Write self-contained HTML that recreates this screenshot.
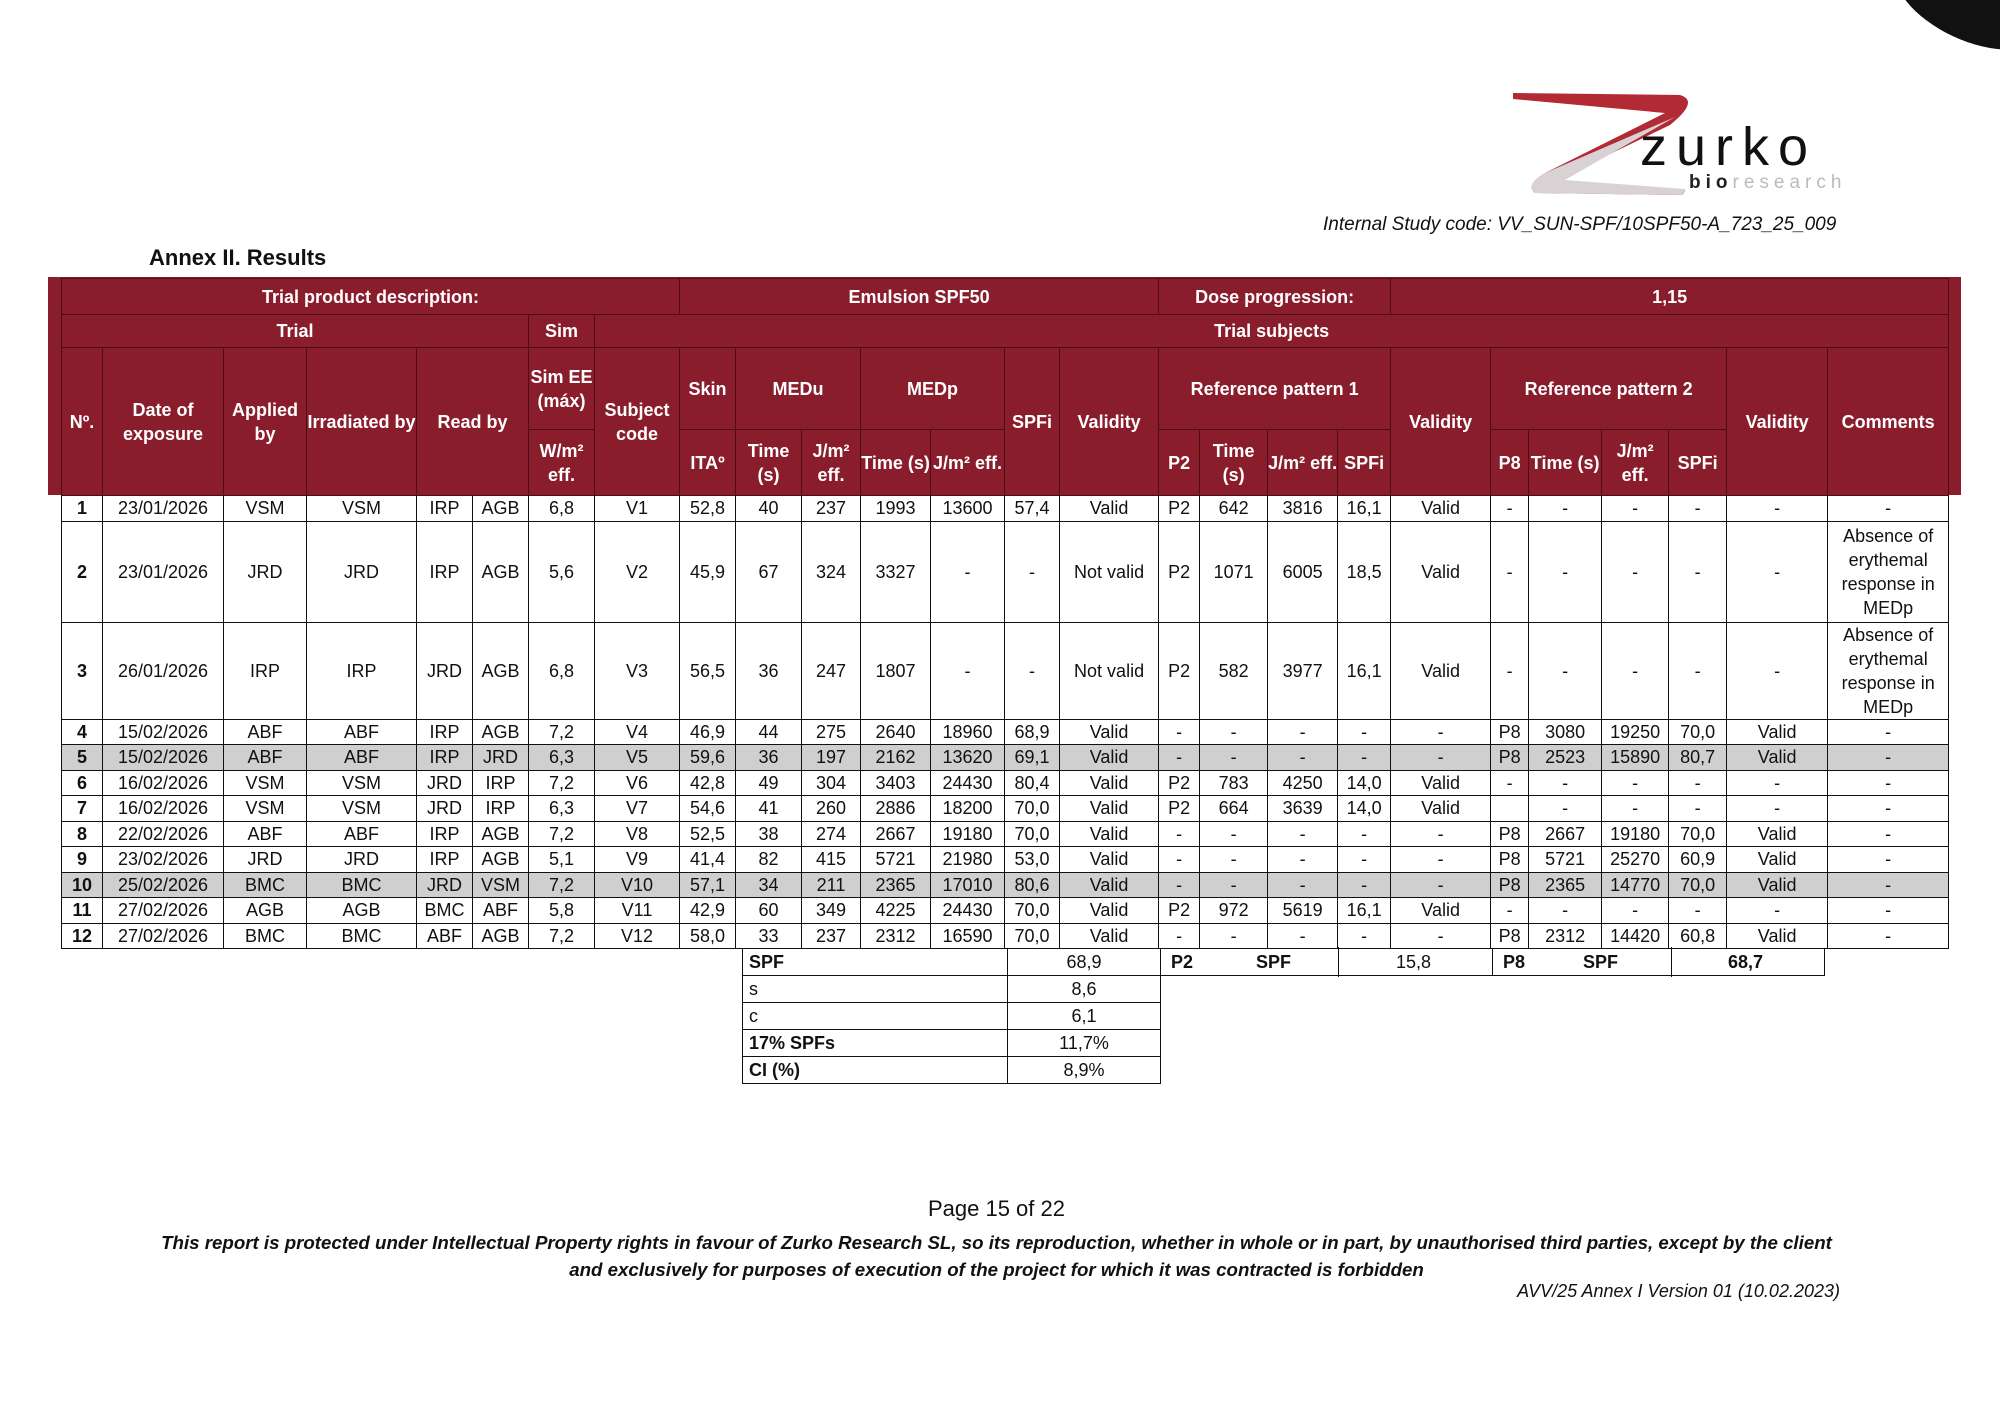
<!DOCTYPE html>
<html><head><meta charset="utf-8"><style>
*{margin:0;padding:0;box-sizing:border-box}
body{width:2000px;height:1414px;background:#fff;position:relative;overflow:hidden;font-family:"Liberation Sans",sans-serif;color:#111}
.abs{position:absolute;white-space:nowrap}
#hdrbg{position:absolute;left:48px;top:277px;width:1913px;height:218px;background:#8a1d2b}
table{position:absolute;border-collapse:collapse;table-layout:fixed}
#main{left:61px;top:278px;width:1887px}
#main td{text-align:center;vertical-align:middle;font-size:18px;line-height:20px;border:1.5px solid #111;overflow:hidden;padding:0}
#main tr.h td{background:#8a1d2b;color:#fff;font-weight:bold;font-size:18px;line-height:24px;border:1px solid #4e0d15}
#main tr.g td{background:#cfcfcf}
#main tr.r td{height:25.5px}
#sum{left:742px;top:948px;width:418px}
#sum td{border:1.5px solid #111;height:27px;font-size:18px;padding:0 6px}
.box{position:absolute;border:1.5px solid #111;height:28px;font-size:18px;font-weight:bold;top:948px}
</style></head><body>
<svg class="abs" style="left:1505px;top:85px" width="360" height="115">
<path d="M8 8 L175 10 Q195 16 165 40 L45 98 L180 105 L178 110 L30 108 Q20 100 40 88 L160 28 L8 14 Z" fill="#b22a33"/>
<path d="M40 88 L170 32 L60 95 L180 104 L178 110 L30 108 Q20 100 40 88Z" fill="#d8d2d4"/>
<text x="135" y="80" font-family="Liberation Sans,sans-serif" font-size="54" fill="#111" letter-spacing="9">zurko</text>
<text x="184" y="103" font-family="Liberation Sans,sans-serif" font-size="19" font-weight="bold" fill="#222" letter-spacing="5">bio<tspan fill="#bbb" font-weight="normal">research</tspan></text>
</svg>
<div class="abs" style="left:1323px;top:214px;font-size:19px;font-style:italic">Internal Study code: VV_SUN-SPF/10SPF50-A_723_25_009</div>
<div class="abs" style="left:149px;top:245px;font-size:22px;font-weight:bold">Annex II. Results</div>
<div id="hdrbg"></div>
<table id="main">
<colgroup><col style="width:41px"><col style="width:121px"><col style="width:83px"><col style="width:110px"><col style="width:56px"><col style="width:56px"><col style="width:66px"><col style="width:85px"><col style="width:56px"><col style="width:66px"><col style="width:59px"><col style="width:70px"><col style="width:74px"><col style="width:55px"><col style="width:99px"><col style="width:41px"><col style="width:68px"><col style="width:70px"><col style="width:53px"><col style="width:100px"><col style="width:38px"><col style="width:73px"><col style="width:67px"><col style="width:58px"><col style="width:101px"><col style="width:121px"></colgroup>
<tr class="h" style="height:36px"><td colspan="8">Trial product description:</td><td colspan="7">Emulsion SPF50</td><td colspan="4">Dose progression:</td><td colspan="7">1,15</td></tr>
<tr class="h" style="height:33px"><td colspan="6">Trial</td><td>Sim</td><td colspan="19">Trial subjects</td></tr>
<tr class="h" style="height:82px"><td rowspan="2">Nº.</td><td rowspan="2">Date of exposure</td><td rowspan="2">Applied by</td><td rowspan="2">Irradiated by</td><td rowspan="2" colspan="2">Read by</td><td>Sim EE (máx)</td><td rowspan="2">Subject code</td><td>Skin</td><td colspan="2">MEDu</td><td colspan="2">MEDp</td><td rowspan="2">SPFi</td><td rowspan="2">Validity</td><td colspan="4">Reference pattern 1</td><td rowspan="2">Validity</td><td colspan="4">Reference pattern 2</td><td rowspan="2">Validity</td><td rowspan="2">Comments</td></tr>
<tr class="h" style="height:66px"><td>W/m² eff.</td><td>ITAº</td><td>Time (s)</td><td>J/m² eff.</td><td>Time (s)</td><td>J/m² eff.</td><td>P2</td><td>Time (s)</td><td>J/m² eff.</td><td>SPFi</td><td>P8</td><td>Time (s)</td><td>J/m² eff.</td><td>SPFi</td></tr>
<tr class="r"><td><b>1</b></td><td>23/01/2026</td><td>VSM</td><td>VSM</td><td>IRP</td><td>AGB</td><td>6,8</td><td>V1</td><td>52,8</td><td>40</td><td>237</td><td>1993</td><td>13600</td><td>57,4</td><td>Valid</td><td>P2</td><td>642</td><td>3816</td><td>16,1</td><td>Valid</td><td>-</td><td>-</td><td>-</td><td>-</td><td>-</td><td>-</td></tr>
<tr style="height:101px"><td><b>2</b></td><td>23/01/2026</td><td>JRD</td><td>JRD</td><td>IRP</td><td>AGB</td><td>5,6</td><td>V2</td><td>45,9</td><td>67</td><td>324</td><td>3327</td><td>-</td><td>-</td><td>Not valid</td><td>P2</td><td>1071</td><td>6005</td><td>18,5</td><td>Valid</td><td>-</td><td>-</td><td>-</td><td>-</td><td>-</td><td style="line-height:24px">Absence of erythemal response in MEDp</td></tr>
<tr style="height:97px"><td><b>3</b></td><td>26/01/2026</td><td>IRP</td><td>IRP</td><td>JRD</td><td>AGB</td><td>6,8</td><td>V3</td><td>56,5</td><td>36</td><td>247</td><td>1807</td><td>-</td><td>-</td><td>Not valid</td><td>P2</td><td>582</td><td>3977</td><td>16,1</td><td>Valid</td><td>-</td><td>-</td><td>-</td><td>-</td><td>-</td><td style="line-height:24px">Absence of erythemal response in MEDp</td></tr>
<tr class="r"><td><b>4</b></td><td>15/02/2026</td><td>ABF</td><td>ABF</td><td>IRP</td><td>AGB</td><td>7,2</td><td>V4</td><td>46,9</td><td>44</td><td>275</td><td>2640</td><td>18960</td><td>68,9</td><td>Valid</td><td>-</td><td>-</td><td>-</td><td>-</td><td>-</td><td>P8</td><td>3080</td><td>19250</td><td>70,0</td><td>Valid</td><td>-</td></tr>
<tr class="r g"><td><b>5</b></td><td>15/02/2026</td><td>ABF</td><td>ABF</td><td>IRP</td><td>JRD</td><td>6,3</td><td>V5</td><td>59,6</td><td>36</td><td>197</td><td>2162</td><td>13620</td><td>69,1</td><td>Valid</td><td>-</td><td>-</td><td>-</td><td>-</td><td>-</td><td>P8</td><td>2523</td><td>15890</td><td>80,7</td><td>Valid</td><td>-</td></tr>
<tr class="r"><td><b>6</b></td><td>16/02/2026</td><td>VSM</td><td>VSM</td><td>JRD</td><td>IRP</td><td>7,2</td><td>V6</td><td>42,8</td><td>49</td><td>304</td><td>3403</td><td>24430</td><td>80,4</td><td>Valid</td><td>P2</td><td>783</td><td>4250</td><td>14,0</td><td>Valid</td><td>-</td><td>-</td><td>-</td><td>-</td><td>-</td><td>-</td></tr>
<tr class="r"><td><b>7</b></td><td>16/02/2026</td><td>VSM</td><td>VSM</td><td>JRD</td><td>IRP</td><td>6,3</td><td>V7</td><td>54,6</td><td>41</td><td>260</td><td>2886</td><td>18200</td><td>70,0</td><td>Valid</td><td>P2</td><td>664</td><td>3639</td><td>14,0</td><td>Valid</td><td></td><td>-</td><td>-</td><td>-</td><td>-</td><td>-</td></tr>
<tr class="r"><td><b>8</b></td><td>22/02/2026</td><td>ABF</td><td>ABF</td><td>IRP</td><td>AGB</td><td>7,2</td><td>V8</td><td>52,5</td><td>38</td><td>274</td><td>2667</td><td>19180</td><td>70,0</td><td>Valid</td><td>-</td><td>-</td><td>-</td><td>-</td><td>-</td><td>P8</td><td>2667</td><td>19180</td><td>70,0</td><td>Valid</td><td>-</td></tr>
<tr class="r"><td><b>9</b></td><td>23/02/2026</td><td>JRD</td><td>JRD</td><td>IRP</td><td>AGB</td><td>5,1</td><td>V9</td><td>41,4</td><td>82</td><td>415</td><td>5721</td><td>21980</td><td>53,0</td><td>Valid</td><td>-</td><td>-</td><td>-</td><td>-</td><td>-</td><td>P8</td><td>5721</td><td>25270</td><td>60,9</td><td>Valid</td><td>-</td></tr>
<tr class="r g"><td><b>10</b></td><td>25/02/2026</td><td>BMC</td><td>BMC</td><td>JRD</td><td>VSM</td><td>7,2</td><td>V10</td><td>57,1</td><td>34</td><td>211</td><td>2365</td><td>17010</td><td>80,6</td><td>Valid</td><td>-</td><td>-</td><td>-</td><td>-</td><td>-</td><td>P8</td><td>2365</td><td>14770</td><td>70,0</td><td>Valid</td><td>-</td></tr>
<tr class="r"><td><b>11</b></td><td>27/02/2026</td><td>AGB</td><td>AGB</td><td>BMC</td><td>ABF</td><td>5,8</td><td>V11</td><td>42,9</td><td>60</td><td>349</td><td>4225</td><td>24430</td><td>70,0</td><td>Valid</td><td>P2</td><td>972</td><td>5619</td><td>16,1</td><td>Valid</td><td>-</td><td>-</td><td>-</td><td>-</td><td>-</td><td>-</td></tr>
<tr class="r"><td><b>12</b></td><td>27/02/2026</td><td>BMC</td><td>BMC</td><td>ABF</td><td>AGB</td><td>7,2</td><td>V12</td><td>58,0</td><td>33</td><td>237</td><td>2312</td><td>16590</td><td>70,0</td><td>Valid</td><td>-</td><td>-</td><td>-</td><td>-</td><td>-</td><td>P8</td><td>2312</td><td>14420</td><td>60,8</td><td>Valid</td><td>-</td></tr>
</table>
<table id="sum">
<colgroup><col style="width:265px"><col style="width:153px"></colgroup>
<tr><td><b>SPF</b></td><td style="text-align:center">68,9</td></tr>
<tr><td>s</td><td style="text-align:center">8,6</td></tr>
<tr><td>c</td><td style="text-align:center">6,1</td></tr>
<tr><td><b>17% SPFs</b></td><td style="text-align:center">11,7%</td></tr>
<tr><td><b>CI (%)</b></td><td style="text-align:center">8,9%</td></tr>
</table>
<div class="box" style="left:1160px;width:333px"><span class="abs" style="left:10px;top:3px">P2</span><span class="abs" style="left:95px;top:3px">SPF</span><span class="abs" style="left:177px;top:-2px;height:30px;border-left:1.5px solid #111"></span><span class="abs" style="left:235px;top:3px;font-weight:normal">15,8</span></div>
<div class="box" style="left:1492px;width:333px"><span class="abs" style="left:10px;top:3px">P8</span><span class="abs" style="left:90px;top:3px">SPF</span><span class="abs" style="left:178px;top:-2px;height:30px;border-left:1.5px solid #111"></span><span class="abs" style="left:235px;top:3px">68,7</span></div>
<div class="abs" style="left:0;width:1993px;text-align:center;top:1196px;font-size:22px">Page 15 of 22</div>
<div class="abs" style="left:0;width:1993px;text-align:center;top:1229px;font-size:18.7px;font-style:italic;font-weight:bold;line-height:27px;white-space:normal">This report is protected under Intellectual Property rights in favour of Zurko Research SL, so its reproduction, whether in whole or in part, by unauthorised third parties, except by the client<br>and exclusively for purposes of execution of the project for which it was contracted is forbidden</div>
<div class="abs" style="right:160px;top:1281px;font-size:18px;font-style:italic">AVV/25 Annex I Version 01 (10.02.2023)</div>
<div class="abs" style="left:1890px;top:-40px;width:160px;height:80px;background:#111;border-radius:50%;transform:rotate(25deg)"></div>
</body></html>
